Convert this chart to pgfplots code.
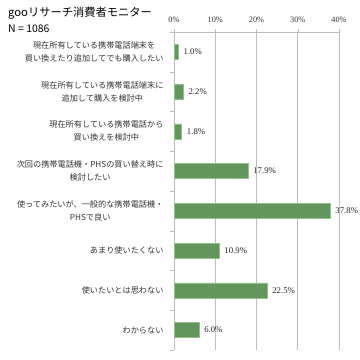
\documentclass[border=0pt]{standalone}
\usepackage{fontspec}
\setmainfont{Noto Sans CJK JP}
\newfontfamily\numfont{Liberation Serif}
\usepackage{pgfplots}
\pgfplotsset{compat=1.18}
\definecolor{bargreen}{RGB}{98,150,92}
\definecolor{barline}{RGB}{150,190,140}
\definecolor{gridgray}{RGB}{190,190,190}
\begin{document}
\begin{tikzpicture}[x=1bp,y=1bp]
\useasboundingbox (0,0) rectangle (360,360);
\node[anchor=west,inner sep=0pt,font=\fontsize{11.3}{13}\selectfont] at (8,347) {gooリサーチ消費者モニター};
\node[anchor=west,inner sep=0pt,font=\fontsize{10.5}{12}\selectfont] at (8,331) {N = 1086};
\begin{axis}[
  at={(174bp,10bp)}, anchor=south west,
  scale only axis, width=165bp, height=318bp,
  xbar, bar width=0.38,
  xmin=0, xmax=40,
  ymin=-0.5, ymax=7.5, y dir=reverse,
  axis x line*=top, axis y line*=left,
  axis line style={gridgray},
  xtick={0,10,20,30,40},
  xticklabel={\pgfmathprintnumber{\tick}\%},
  xticklabel style={font=\numfont\fontsize{8.3}{9}\selectfont, text=black!80, yshift=3bp},
  /pgf/number format/assume math mode=true,
  x tick style={gridgray}, xmajorgrids, grid style={gridgray, line width=0.6pt},
  major tick length=3bp,
  ytick={0,...,7},
  y tick style={draw=none},
  minor ytick={-0.5,0.5,...,7.5},
  minor y tick style={gridgray, draw=gridgray},
  minor tick length=4bp,
  tick align=outside,
  yticklabels={
    {現在所有している携帯電話端末を\\買い換えたり追加してでも購入したい},
    {現在所有している携帯電話端末に\\追加して購入を検討中},
    {現在所有している携帯電話から\\買い換えを検討中},
    {次回の携帯電話機・PHSの買い替え時に\\検討したい},
    {使ってみたいが、一般的な携帯電話機・\\PHSで良い},
    {あまり使いたくない},
    {使いたいとは思わない},
    {わからない}},
  yticklabel style={align=center, font=\fontsize{8.2}{13}\selectfont, text=black!80, xshift=-4bp},
  nodes near coords={\pgfmathprintnumber[fixed,fixed zerofill,precision=1]{\pgfplotspointmeta}\%},
  nodes near coords style={font=\numfont\fontsize{8.8}{9}\selectfont, anchor=west, xshift=2bp, text=black!85},
]
\addplot[fill=bargreen, draw=barline] coordinates {
 (1.0,0) (2.2,1) (1.8,2) (17.9,3) (37.8,4) (10.9,5) (22.5,6) (6.0,7)};
\end{axis}
\end{tikzpicture}
\end{document}
